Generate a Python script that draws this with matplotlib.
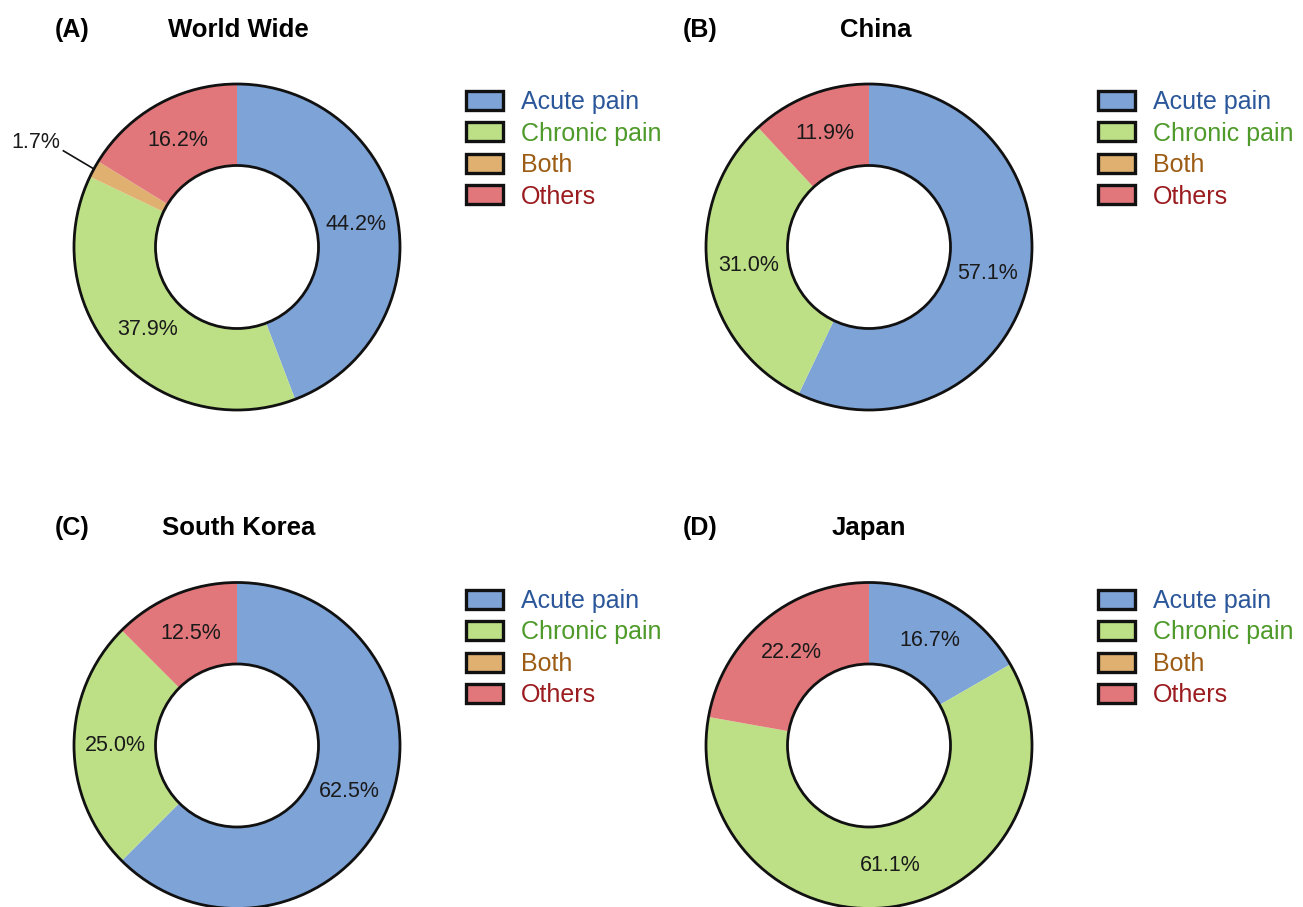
import numpy as np
import matplotlib
matplotlib.use("Agg")
import matplotlib.pyplot as plt
from matplotlib.patches import Patch, Circle

plt.rcParams['font.family'] = ['Liberation Sans', 'DejaVu Sans']

categories = ["Acute pain", "Chronic pain", "Both", "Others"]
panel_labels = ["(A)", "(B)", "(C)", "(D)"]
titles = ["World Wide", "China", "South Korea", "Japan"]
world_wide = [44.2, 37.9, 1.7, 16.2]
china = [57.1, 31.0, 0.0, 11.9]
south_korea = [62.5, 25.0, 0.0, 12.5]
japan = [16.7, 61.1, 0.0, 22.2]
series = [world_wide, china, south_korea, japan]

colors = ["#7ea3d7", "#bde086", "#e0b071", "#e1777b"]
text_colors = ["#2b579a", "#4e9a2a", "#9c5c14", "#9b1c1f"]

W, H = 1303, 907
fig = plt.figure(figsize=(W / 100, H / 100), dpi=100)

R = 163  # px
centers = [(237, 247), (869, 247), (237, 745.5), (869, 745.5)]
title_y = [30, 30, 528, 528]
title_x = [238, 876, 239, 869]
label_x = [72, 700, 72, 700]
legend_x = [466, 1098, 466, 1098]
legend_y = [90, 90, 589, 589]

for i, vals in enumerate(series):
    cx, cy = centers[i]
    ax = fig.add_axes([(cx - R) / W, 1 - (cy + R) / H, 2 * R / W, 2 * R / H])
    ax.set_axis_off()

    def fmt(p):
        return "" if p < 5 else f"{p:.1f}%"

    wedges, _, autotexts = ax.pie(vals, colors=colors, startangle=90, counterclock=False,
                                  autopct=fmt, pctdistance=0.745,
                                  wedgeprops=dict(width=0.5, linewidth=0),
                                  textprops=dict(fontsize=15.5, color="#1a1a1a"))
    ax.set_xlim(-1, 1)
    ax.set_ylim(-1, 1)
    ax.set_aspect('equal')
    for r in (1.0, 0.5):
        ax.add_patch(Circle((0, 0), r, fill=False, edgecolor="#111111", linewidth=2.0, clip_on=False))

    # small slice external label
    for w, v in zip(wedges, vals):
        if 0 < v < 5:
            ang = np.deg2rad((w.theta1 + w.theta2) / 2)
            px, py = np.cos(ang), np.sin(ang)
            ax.plot([px, -1.065], [py, 0.59], color="#111111", lw=1.2, clip_on=False)
            ax.text(-1.085, 0.64, f"{v:.1f}%", ha="right", va="center", fontsize=15.5,
                    color="#1a1a1a", clip_on=False)

    # panel labels and titles
    fig.text(label_x[i] / W, 1 - title_y[i] / H, panel_labels[i], fontsize=18, fontweight="bold",
             ha="center", va="center")
    fig.text(title_x[i] / W, 1 - title_y[i] / H, titles[i], fontsize=18.5, fontweight="bold",
             ha="center", va="center")

    handles = [Patch(facecolor=c, edgecolor="#111111", linewidth=2.4) for c in colors]
    leg = fig.legend(handles, categories, loc="upper left",
                     bbox_to_anchor=(legend_x[i] / W, 1 - legend_y[i] / H),
                     frameon=False, fontsize=18, handlelength=1.48, handleheight=0.78,
                     handletextpad=0.72, labelspacing=0.3, borderpad=0, borderaxespad=0)
    for t, c in zip(leg.get_texts(), text_colors):
        t.set_color(c)

fig.savefig("out.png", dpi=100)
